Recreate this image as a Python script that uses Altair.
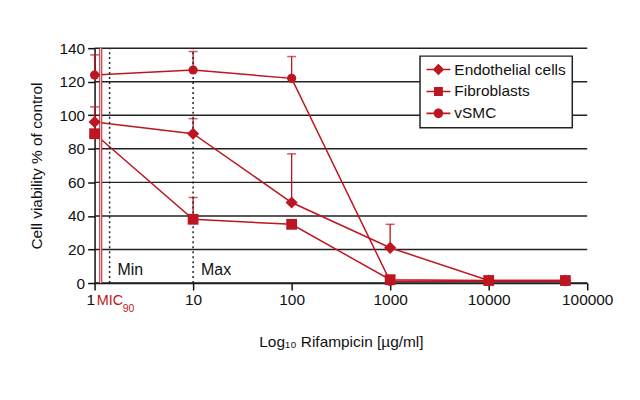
import altair as alt
import pandas as pd

# ---- data ----
conc = [1, 10, 100, 1000, 10000, 60000]
series_names = ["Endothelial cells", "Fibroblasts", "vSMC"]
endothelial = [96, 89, 48, 21, 1.5, 1.5]
endothelial_upper = [105, 98, 77, 35, None, None]
fibroblasts = [89, 38, 35, 2, 1.5, 1.5]
fibroblasts_upper = [None, 51, None, None, None, None]
vsmc = [124, 127, 122, 1, 1, 1]
vsmc_upper = [136, 138, 135, None, None, None]

x_ticks = [1, 10, 100, 1000, 10000, 100000]
y_ticks = [0, 20, 40, 60, 80, 100, 120, 140]
mic90 = 1.155
ref_conc = [1.42, 10]
ref_labels = ["Min", "Max"]

RED = "#bd1622"
FONT = "Liberation Sans, Arial, sans-serif"

rows = []
for name, vals, ups in [
    (series_names[0], endothelial, endothelial_upper),
    (series_names[1], fibroblasts, fibroblasts_upper),
    (series_names[2], vsmc, vsmc_upper),
]:
    for c, v, u in zip(conc, vals, ups):
        rows.append({"series": name, "conc": c, "value": v, "upper": u})
df = pd.DataFrame(rows)
err_df = df.dropna(subset=["upper"])
ref_df = pd.DataFrame({"conc": ref_conc, "label": ref_labels})
mic_df = pd.DataFrame({"conc": [mic90], "label": ["MIC"], "sub": ["90"]})
grid_df = pd.DataFrame({"value": y_ticks})

xscale = alt.Scale(type="log", domain=[1, 100000], nice=False)
yscale = alt.Scale(domain=[0, 140], nice=False)

x_main = alt.X(
    "conc:Q",
    scale=xscale,
    axis=alt.Axis(
        values=x_ticks,
        format="d",
        grid=False,
        labelOverlap=False,
        labelAlign={"expr": "datum.value == 1 ? 'right' : 'center'"},
        title="Log\u2081\u2080 Rifampicin [µg/ml]",
        titlePadding=26,
    ),
)
y_main = alt.Y(
    "value:Q",
    scale=yscale,
    axis=alt.Axis(
        values=y_ticks,
        tickCount=8,
        labelOverlap=False,
        grid=False,
        title="Cell viability % of control",
        titlePadding=14,
    ),
)

# horizontal grid lines, drawn from the y tick values
grid = alt.Chart(grid_df).mark_rule(color="#222222", strokeWidth=1.5).encode(
    y=alt.Y("value:Q", scale=yscale), x=alt.datum(1), x2=alt.datum(100000)
)

lines = alt.Chart(df).mark_line(color=RED, strokeWidth=1.5).encode(
    x=x_main, y=y_main, detail="series:N"
)

points = alt.Chart(df).mark_point(filled=True, opacity=1, color=RED).encode(
    x="conc:Q",
    y="value:Q",
    shape=alt.Shape(
        "series:N",
        scale=alt.Scale(domain=series_names, range=["diamond", "square", "circle"]),
        legend=None,
    ),
    size=alt.Size(
        "series:N",
        scale=alt.Scale(domain=series_names, range=[150, 85, 100]),
        legend=None,
    ),
)

err_rules = alt.Chart(err_df).mark_rule(color=RED, strokeWidth=1.3).encode(
    x="conc:Q", y="value:Q", y2="upper:Q"
)
err_caps = alt.Chart(err_df).mark_tick(
    color=RED, orient="horizontal", size=9, thickness=1.5
).encode(x="conc:Q", y="upper:Q")

ref_rules = alt.Chart(ref_df).mark_rule(
    color="#222222", strokeWidth=1.5, strokeDash=[2, 3]
).encode(x="conc:Q", y=alt.datum(0), y2=alt.datum(140))
ref_text = alt.Chart(ref_df).mark_text(
    align="left", baseline="alphabetic", dx=8, dy=-8, fontSize=16, font=FONT, color="#111111"
).encode(x="conc:Q", y=alt.datum(0), text="label:N")

mic_rule = alt.Chart(mic_df).mark_rule(color=RED, strokeWidth=3).encode(
    x="conc:Q", y=alt.datum(0), y2=alt.datum(140)
)
mic_rule_inner = alt.Chart(mic_df).mark_rule(color="white", strokeWidth=1).encode(
    x="conc:Q", y=alt.datum(0), y2=alt.datum(140)
)
mic_text = alt.Chart(mic_df).mark_text(
    align="left", baseline="alphabetic", dx=-4, dy=22, fontSize=14.5, font=FONT, color=RED
).encode(x="conc:Q", y=alt.datum(0), text="label:N")
mic_sub = alt.Chart(mic_df).mark_text(
    align="left", baseline="alphabetic", dx=22, dy=29, fontSize=10.5, font=FONT, color=RED
).encode(x="conc:Q", y=alt.datum(0), text="sub:N")

# legend symbols: a short line with the marker on it
line_part = "M-1.5,-0.1L1.5,-0.1L1.5,0.1L-1.5,0.1Z"
legend_paths = [
    line_part + "M0,-0.72L0.72,0L0,0.72L-0.72,0Z",
    line_part + "M-0.56,-0.56L0.56,-0.56L0.56,0.56L-0.56,0.56Z",
    line_part + "M-0.6,0A0.6,0.6,0,1,1,0.6,0A0.6,0.6,0,1,1,-0.6,0Z",
]
legend_layer = (
    alt.Chart(df)
    .transform_filter("datum.value < -1000")
    .mark_point(filled=True, color=RED)
    .encode(
        x="conc:Q",
        y="value:Q",
        shape=alt.Shape(
            "series:N",
            scale=alt.Scale(domain=series_names, range=legend_paths),
            legend=alt.Legend(
                title=None,
                orient="none",
                legendX=327,
                legendY=8,
                symbolSize=256,
                symbolFillColor=RED,
                symbolStrokeWidth=0,
                symbolOpacity=1,
                symbolOffset=5,
                labelOffset=8,
                rowPadding=5,
                padding=5.5,
                labelFontSize=15.5,
                labelFont=FONT,
                labelColor="#111111",
                strokeColor="#222222",
                fillColor="white",
            ),
        ),
    )
)

chart = (
    alt.layer(
        grid, lines, err_rules, err_caps, ref_rules, ref_text,
        mic_rule, mic_rule_inner, mic_text, mic_sub, points, legend_layer,
    )
    .resolve_scale(shape="independent", size="independent")
    .properties(
        width=495,
        height=236,
        autosize="none",
        padding={"left": 87, "top": 39.5, "right": 45, "bottom": 80},
    )
    .configure_view(stroke=None)
    .configure_axis(
        labelFont=FONT,
        titleFont=FONT,
        labelFontSize=15.5,
        titleFontSize=15.5,
        titleFontWeight="normal",
        labelColor="#111111",
        titleColor="#111111",
        domainColor="#111111",
        domainWidth=1.5,
        tickColor="#111111",
        tickWidth=1.5,
        tickSize=7,
        labelPadding=3,
    )
    .configure_legend(strokeWidth=1.5)
)

chart.save("out.html", embed_options={"renderer": "svg", "actions": False})
